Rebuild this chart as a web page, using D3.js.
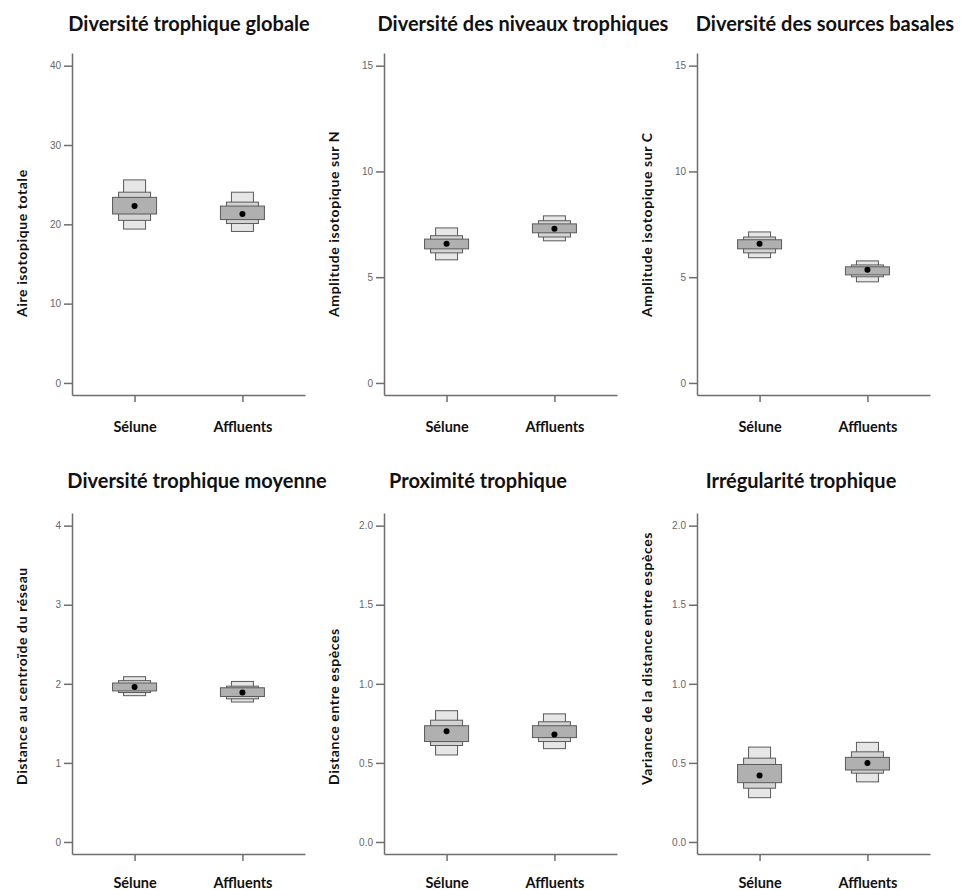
<!DOCTYPE html>
<html><head><meta charset="utf-8">
<script src="https://cdn.jsdelivr.net/npm/d3@7"></script>
<style>
html,body{margin:0;padding:0;background:#fff;}
svg{display:block;}
</style></head>
<body>
<svg id="chart" width="964" height="890"></svg>
<script>
// ---- data ----
const groups = ["Sélune", "Affluents"];
const titles = ["Diversité trophique globale", "Diversité des niveaux trophiques", "Diversité des sources basales",
                "Diversité trophique moyenne", "Proximité trophique", "Irrégularité trophique"];
const yLabels = ["Aire isotopique totale", "Amplitude isotopique sur N", "Amplitude isotopique sur C",
                 "Distance au centroïde du réseau", "Distance entre espèces", "Variance de la distance entre espèces"];
const yMax = [40, 15, 15, 4, 2, 2];
const yTicks = [[0,10,20,30,40],[0,5,10,15],[0,5,10,15],[0,1,2,3,4],[0,0.5,1,1.5,2],[0,0.5,1,1.5,2]];
const tickFormats = ["d","d","d","d",".1f",".1f"];
const means = [[22.3,21.3],[6.58,7.29],[6.58,5.35],[1.96,1.89],[0.70,0.68],[0.42,0.50]];
const ci95 = [
  [[19.4,25.6],[19.1,24.05]],
  [[5.82,7.33],[6.72,7.9]],
  [[5.92,7.14],[4.78,5.77]],
  [[1.85,2.09],[1.77,2.03]],
  [[0.55,0.83],[0.59,0.81]],
  [[0.28,0.60],[0.38,0.63]]
];
const ci75 = [
  [[20.5,24.05],[20.1,22.8]],
  [[6.15,6.96],[6.9,7.67]],
  [[6.15,6.9],[5.02,5.58]],
  [[1.89,2.04],[1.81,1.97]],
  [[0.61,0.77],[0.635,0.76]],
  [[0.34,0.53],[0.435,0.57]]
];
const ci50 = [
  [[21.3,23.4],[20.6,22.3]],
  [[6.34,6.8],[7.1,7.52]],
  [[6.34,6.77],[5.11,5.49]],
  [[1.91,2.01],[1.84,1.95]],
  [[0.635,0.735],[0.66,0.735]],
  [[0.375,0.49],[0.455,0.535]]
];

// ---- layout ----
const axisX = [72, 384, 697];
const rows = [{top:53, bottom:395, titleY:31, labelEnd:317, tickPad:20},
              {top:513, bottom:854, titleY:488, labelEnd:785, tickPad:17}];
const titleX = [189, 523, 825, 197, 478, 801];
const plotW = 233;
const levels = [
  {data: ci95, w: 22, fill: "#e6e6e6"},
  {data: ci75, w: 32, fill: "#d3d3d3"},
  {data: ci50, w: 44, fill: "#b0b0b0"}
];
const axisColor = "#6e6e6e";

const svg = d3.select("#chart");

titles.forEach((title, i) => {
  const col = i % 3, row = rows[Math.floor(i / 3)];
  const ax = axisX[col];
  const g = svg.append("g");

  const y = d3.scaleLinear().domain([-0.038 * yMax[i], 1.04 * yMax[i]]).range([row.bottom, row.top]);
  const x = d3.scalePoint().domain(groups).range([0, plotW]).padding(0.58);

  // title
  g.append("text").attr("x", titleX[i]).attr("y", row.titleY)
    .attr("text-anchor", "middle").attr("font-family", "Lato, 'Open Sans', sans-serif")
    .attr("font-weight", "bold").attr("font-size", 20).attr("fill", "#111").text(title);

  // y axis
  const yAx = g.append("g").attr("transform", `translate(${ax},0)`)
    .call(d3.axisLeft(y).tickValues(yTicks[i]).tickFormat(d3.format(tickFormats[i])).tickSize(8).tickSizeOuter(0).tickPadding(3));
  yAx.selectAll("path,line").attr("stroke", axisColor).attr("stroke-width", 1.5);
  yAx.selectAll("text").attr("font-family", "'Liberation Sans', Arial, sans-serif").attr("font-size", 10).attr("fill", "#666");

  // x axis
  const xAx = g.append("g").attr("transform", `translate(${ax},${row.bottom})`)
    .call(d3.axisBottom(x).tickSize(7).tickSizeOuter(0).tickPadding(row.tickPad));
  xAx.selectAll("path,line").attr("stroke", axisColor).attr("stroke-width", 1.5);
  xAx.selectAll("text").attr("font-family", "Lato, 'Open Sans', sans-serif").attr("font-weight", "bold")
    .attr("font-size", 14.5).attr("fill", "#111");

  // y label
  g.append("text").attr("transform", `translate(${ax - 45},${row.labelEnd}) rotate(-90)`)
    .attr("text-anchor", "start").attr("font-family", "Lato, 'Open Sans', sans-serif")
    .attr("font-weight", "bold").attr("font-size", 14).attr("letter-spacing", 0.6)
    .attr("fill", "#111").text(yLabels[i]);

  // boxes
  const plot = g.append("g").attr("transform", `translate(${ax},0)`);
  levels.forEach(lv => {
    plot.selectAll(null).data(groups).enter().append("rect")
      .attr("x", (d) => x(d) - lv.w / 2)
      .attr("width", lv.w)
      .attr("y", (d, j) => y(lv.data[i][j][1]))
      .attr("height", (d, j) => y(lv.data[i][j][0]) - y(lv.data[i][j][1]))
      .attr("fill", lv.fill).attr("stroke", "#5a5a5a").attr("stroke-width", 1);
  });
  plot.selectAll(null).data(groups).enter().append("circle")
    .attr("cx", d => x(d)).attr("cy", (d, j) => y(means[i][j])).attr("r", 3).attr("fill", "#000");
});
</script>
</body></html>
